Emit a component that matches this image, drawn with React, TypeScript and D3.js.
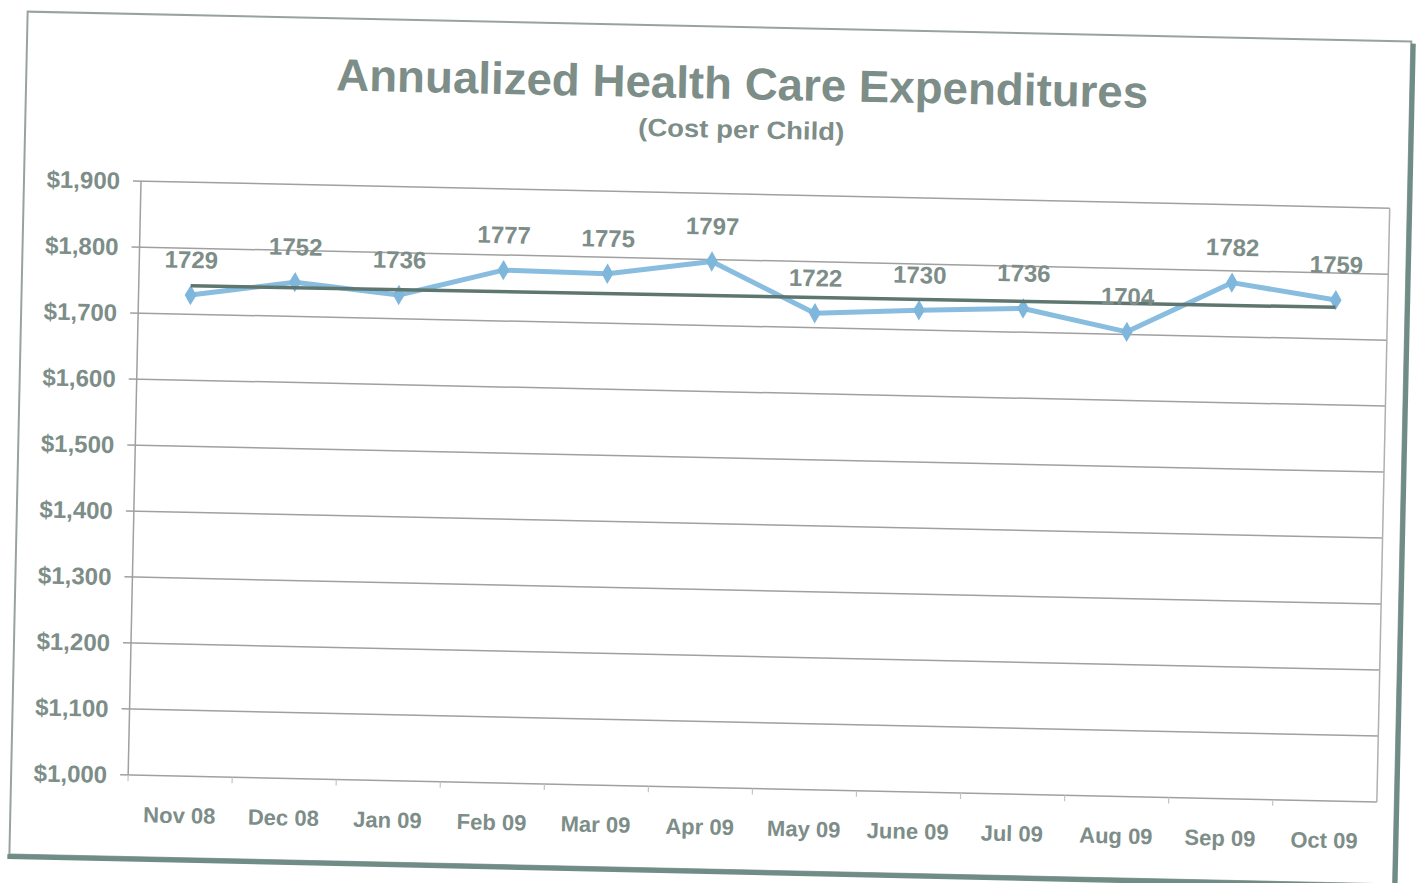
import * as d3 from "d3";
import { useEffect } from "react";

// months on the category axis
const months = ["Nov 08", "Dec 08", "Jan 09", "Feb 09", "Mar 09", "Apr 09", "May 09", "June 09", "Jul 09", "Aug 09", "Sep 09", "Oct 09"];

// cost per child for each month
const costs = [1729, 1752, 1736, 1777, 1775, 1797, 1722, 1730, 1736, 1704, 1782, 1759];

// trend line at first and last month
const trendMonths = ["Nov 08", "Oct 09"];
const trendValues = [1743, 1748];

// y axis ticks
const yTicks = [1000, 1100, 1200, 1300, 1400, 1500, 1600, 1700, 1800, 1900];

const W = 1416;
const H = 883;
const TEXT = "#7d8d88";

export default function App() {
    // drop the default body margin so the svg fills the window
    useEffect(() => {
        document.body.style.margin = "0";
    }, []);

    const margin = { top: 181, right: 1390, bottom: 775, left: 141 };

    const x = d3.scaleBand().domain(months).range([margin.left, margin.right]);
    const y = d3.scaleLinear().domain([1000, 1900]).range([margin.bottom, margin.top]);
    const cx = (m: string) => (x(m) as number) + x.bandwidth() / 2;

    const line = d3.line<number>().x((d, i) => cx(months[i])).y(d => y(d));
    const trend = d3.line<number>().x((d, i) => cx(trendMonths[i])).y(d => y(d));
    const diamond = d3.symbol().type(d3.symbolDiamond).size(120)();

    const font = "'Liberation Sans', Arial, sans-serif";

    return (
        <svg width={W} height={H} style={{ display: "block", background: "#fff" }} fontFamily={font}>
            <g transform="rotate(1.24, 135, 181)">
                {/* chart frame with shadow */}
                <rect x={24} y={14} width={1384} height={843} fill="none" stroke="#98a39f" strokeWidth={2} />
                <line x1={22} x2={1412} y1={859} y2={859} stroke="#6f8d86" strokeWidth={5} />
                <line x1={1410} x2={1410} y1={16} y2={861} stroke="#6f8d86" strokeWidth={5} />

                {/* titles */}
                <text x={740} y={86} textAnchor="middle" fill={TEXT} fontSize={45} fontWeight="bold" textLength={812} lengthAdjust="spacingAndGlyphs">Annualized Health Care Expenditures</text>
                <text x={740} y={125} textAnchor="middle" fill={TEXT} fontSize={25} fontWeight="bold" textLength={206} lengthAdjust="spacingAndGlyphs">(Cost per Child)</text>

                {/* gridlines and y labels */}
                {yTicks.map(t => (
                    <g key={t}>
                        <line x1={margin.left - 8} x2={margin.right} y1={y(t)} y2={y(t)} stroke="#a0a0a0" strokeWidth={1.5} />
                        <text x={120} y={y(t)} dy="0.35em" textAnchor="end" fill={TEXT} fontSize={24} fontWeight="bold">
                            {d3.format("$,")(t)}
                        </text>
                    </g>
                ))}
                <line x1={margin.left} x2={margin.left} y1={margin.top} y2={margin.bottom} stroke="#a0a0a0" strokeWidth={1.5} />
                <line x1={margin.right} x2={margin.right} y1={margin.top} y2={margin.bottom} stroke="#b0b0b0" strokeWidth={1.5} />

                {/* category ticks and labels */}
                {months.map(m => (
                    <g key={m}>
                        <line x1={x(m)} x2={x(m)} y1={margin.bottom} y2={margin.bottom + 6} stroke="#c4c4c4" strokeWidth={1.2} />
                        <text x={cx(m)} y={margin.bottom + 47} textAnchor="middle" fill={TEXT} fontSize={22} fontWeight="bold">{m}</text>
                    </g>
                ))}

                {/* cost series */}
                <path d={line(costs) ?? ""} fill="none" stroke="#88bde0" strokeWidth={5} strokeLinejoin="round" />
                {costs.map((v, i) => (
                    <path key={i} d={diamond ?? ""} transform={`translate(${cx(months[i])},${y(v)})`} fill="#7fb6dc" />
                ))}

                {/* trend line */}
                <path d={trend(trendValues) ?? ""} fill="none" stroke="#5e7670" strokeWidth={3.5} />

                {/* data labels */}
                {costs.map((v, i) => (
                    <text key={i} x={cx(months[i])} y={y(v) - 27} textAnchor="middle" fill={TEXT} fontSize={24} fontWeight="bold">{v}</text>
                ))}
            </g>
        </svg>
    );
}
